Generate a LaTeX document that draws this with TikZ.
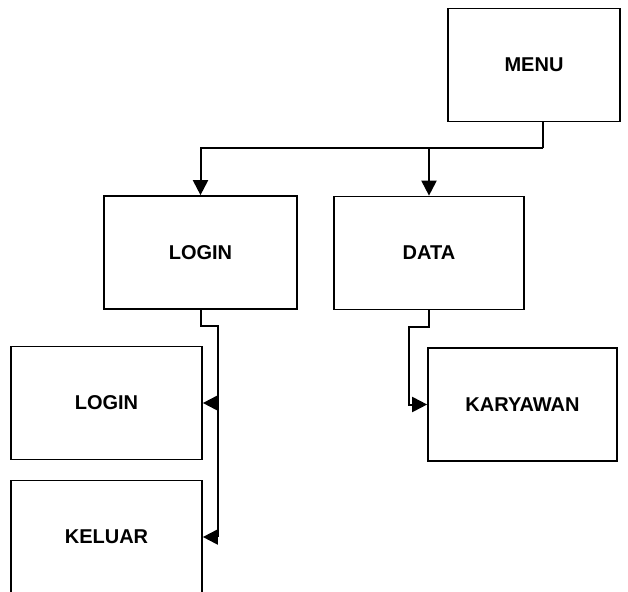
\documentclass[tikz,border=0pt]{standalone}
\usepackage{fontspec}
\setmainfont{Liberation Sans}
\usetikzlibrary{arrows.meta}

\tikzset{
  menubox/.style={draw, line width=1.7pt, minimum width=#1, minimum height=113pt,
    inner sep=0pt, font=\bfseries\fontsize{20}{20}\selectfont},
  menubox/.default=191pt,
  link/.style={line width=2pt},
  arrow/.style={link, -{Triangle[length=15pt, width=15pt]}}
}

\begin{document}
\begin{tikzpicture}[x=1pt, y=-1pt]
  \useasboundingbox (0,0) rectangle (628,591);
  \clip (0,0) rectangle (628,591);
  % boxes
  \node[menubox=172pt] (menu) at (534,65) {MENU};
  \node[menubox=193pt] (login) at (200.5,252.5) {LOGIN};
  \node[menubox=190pt] (data) at (429,253) {DATA};
  \node[menubox] (login2) at (106.5,403) {LOGIN};
  \node[menubox] (keluar) at (106.5,537) {KELUAR};
  \node[menubox=189pt] (karyawan) at (522.5,404.5) {KARYAWAN};
  % connectors
  \coordinate (bus) at (543,148);
  \draw[link] (menu.south -| bus) -- (bus);
  \draw[arrow] (bus) -| (login.north);
  \draw[arrow] (bus) -| (data.north);
  \coordinate (lrail) at (218,326);
  \draw[link] (login.south) |- (lrail) -- (lrail |- keluar.east);
  \draw[arrow] (lrail |- login2.east) -- (login2.east);
  \draw[arrow] (lrail |- keluar.east) -- (keluar.east);
  \coordinate (drail) at (409,327);
  \draw[arrow] (data.south) |- (drail) |- (karyawan.west);
\end{tikzpicture}
\end{document}
